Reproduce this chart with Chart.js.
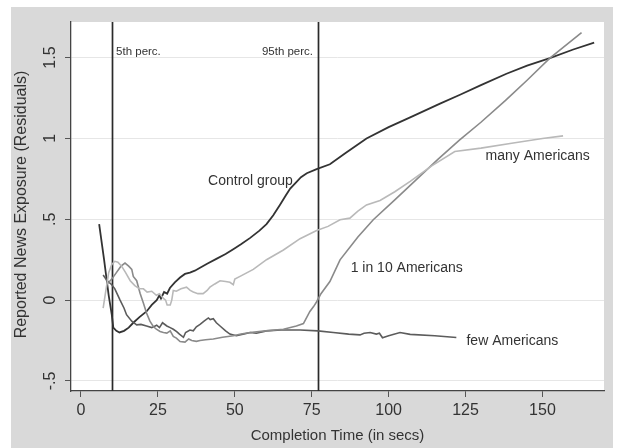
<!DOCTYPE html>
<html>
<head>
<meta charset="utf-8">
<script src="https://cdn.jsdelivr.net/npm/chart.js@4.4.1/dist/chart.umd.min.js"></script>
<style>
html,body{margin:0;padding:0;background:#fff;}
canvas{display:block;}
</style>
</head>
<body>
<canvas id="c" width="618" height="448"></canvas>
<script>
// ---- data ----
const controlX = [5.9,7.5,9,10,10.5,11.5,12.5,14,15.5,17,19,21.3,23,24.6,25.5,26,27,28,28.9,30.5,32.2,33.8,35.4,37,38.7,41,44,47,49.5,52,55,58,60.3,62.5,64.7,66.5,68,70,71.5,73.4,76.6,80.9,86,92.8,100,107,116.7,123.2,130,138.3,145,152.4,160,166.8];
const controlY = [0.47,0.25,0.03,-0.09,-0.17,-0.19,-0.2,-0.19,-0.17,-0.14,-0.105,-0.07,-0.03,0.0,0.03,0.01,0.05,0.04,0.075,0.11,0.14,0.162,0.17,0.182,0.2,0.225,0.255,0.285,0.315,0.345,0.385,0.43,0.47,0.525,0.59,0.645,0.69,0.73,0.76,0.785,0.81,0.84,0.91,1.0,1.07,1.13,1.215,1.27,1.33,1.4,1.45,1.497,1.55,1.593];

const manyX = [7.2,8,9,10,11,12,13.2,14.5,16,17.5,19,20.3,21.5,23,24.5,25.5,26.8,27.5,28,29,29.5,30,31,32.5,34.3,35.5,36.5,38,39.7,41,41.9,43.5,45.2,47,48.4,49.5,50,52,56,60.3,65.8,71.2,76.6,80.3,84.2,87.4,90,92.8,97.2,102,107,114,121.5,130,140,150,156.7];
const manyY = [-0.05,0.05,0.17,0.22,0.24,0.235,0.21,0.17,0.12,0.09,0.07,0.07,0.05,0.055,0.03,0.04,0.01,0.0,-0.03,-0.03,0.0,0.06,0.055,0.07,0.08,0.06,0.05,0.04,0.04,0.06,0.08,0.1,0.12,0.115,0.11,0.095,0.13,0.15,0.19,0.25,0.31,0.38,0.43,0.456,0.497,0.507,0.55,0.589,0.616,0.67,0.734,0.83,0.919,0.94,0.97,1.0,1.016];

const tenX = [8.5,10,11.5,13,14.3,15.5,16.5,17,18.1,19.2,20.3,21.3,22.4,23.5,24.5,25.7,26.8,27.9,29,30,31,32.2,33.8,35,36,37.5,38.7,40.5,43,46,49.5,52,55,60,65.8,70,72.3,74.4,75.6,76.6,78,80.9,84.2,90,95,102,109,116,123,130,138,145,152.4,162.7];
const tenY = [0.1,0.13,0.17,0.21,0.229,0.21,0.19,0.146,0.12,0.043,-0.02,-0.08,-0.13,-0.163,-0.18,-0.194,-0.2,-0.204,-0.19,-0.225,-0.235,-0.256,-0.26,-0.24,-0.25,-0.255,-0.25,-0.245,-0.24,-0.23,-0.22,-0.21,-0.2,-0.19,-0.18,-0.16,-0.145,-0.07,-0.04,-0.01,0.04,0.115,0.249,0.39,0.497,0.62,0.745,0.87,0.99,1.1,1.235,1.36,1.497,1.655];

const fewX = [7.2,8.5,10,11,12.7,14,14.8,16.5,18.1,19.5,21.3,23,24.6,25.5,26.5,27.9,29,30,31.1,32,33.3,34,35.4,36.5,37.5,38.7,40,41.4,42,43,44,45.2,47,48.4,50.5,53,55,57,60.3,65,71.2,77,82,87,90.7,92,94,96,97,98,100,103.7,107,115,122];
const fewY = [0.155,0.12,0.095,0.07,0.0,-0.05,-0.09,-0.13,-0.153,-0.15,-0.16,-0.17,-0.155,-0.17,-0.14,-0.16,-0.17,-0.18,-0.195,-0.21,-0.23,-0.2,-0.185,-0.19,-0.165,-0.15,-0.13,-0.11,-0.12,-0.115,-0.14,-0.16,-0.19,-0.21,-0.22,-0.21,-0.2,-0.205,-0.19,-0.185,-0.185,-0.19,-0.2,-0.21,-0.215,-0.205,-0.2,-0.21,-0.205,-0.233,-0.22,-0.2,-0.212,-0.22,-0.231];

const percentileX = [10, 77];
const percentileLabels = ['5th perc.', '95th perc.'];

const xTicks = [0,25,50,75,100,125,150];
const xTickLabels = ['0','25','50','75','100','125','150'];
const yTicks = [-0.5,0,0.5,1,1.5];
const yTickLabels = ['-.5','0','.5','1','1.5'];

const seriesNames = ['Control group','many Americans','1 in 10 Americans','few Americans'];
const annotX = [41.3, 131.5, 87.65, 125.3];
const annotY = [0.738, 0.892, 0.2, -0.254];
const percLabelX = [11.4, 58.8];
const percLabelY = [1.536, 1.536];

const xTitle = 'Completion Time (in secs)';
const yTitle = 'Reported News Exposure (Residuals)';

// ---- helpers ----
function pts(xs, ys){ return xs.map((x,i)=>({x:x, y:ys[i]})); }
const FONT = '"Liberation Sans", Arial, Helvetica, sans-serif';

const framePlugin = {
  id: 'frame',
  beforeDraw(chart){
    const ctx = chart.ctx, a = chart.chartArea;
    ctx.save();
    ctx.fillStyle = '#ffffff';
    ctx.fillRect(0,0,chart.width,chart.height);
    ctx.fillStyle = '#d9d9d9';
    ctx.fillRect(11,7,602,441);
    ctx.fillStyle = '#ffffff';
    ctx.fillRect(a.left, a.top, a.right-a.left, a.bottom-a.top);
    ctx.restore();
  },
  beforeDatasetsDraw(chart){
    const ctx = chart.ctx, a = chart.chartArea, xs = chart.scales.x;
    ctx.save();
    ctx.strokeStyle = '#2a2a2a';
    ctx.lineWidth = 1.7;
    percentileX.forEach(v=>{
      const px = Math.round(xs.getPixelForValue(v)) + 0.5;
      ctx.beginPath(); ctx.moveTo(px, a.top); ctx.lineTo(px, a.bottom); ctx.stroke();
    });
    ctx.restore();
  },
  afterDraw(chart){
    const ctx = chart.ctx, a = chart.chartArea, xs = chart.scales.x, ys = chart.scales.y;
    ctx.save();
    ctx.fillStyle = '#333333';
    // x tick labels
    ctx.font = '16px ' + FONT;
    ctx.textAlign = 'center'; ctx.textBaseline = 'middle';
    xTicks.forEach((v,i)=>{ ctx.fillText(xTickLabels[i], xs.getPixelForValue(v), 411); });
    // y tick labels rotated
    yTicks.forEach((v,i)=>{
      ctx.save();
      ctx.translate(51, ys.getPixelForValue(v));
      ctx.rotate(-Math.PI/2);
      ctx.fillText(yTickLabels[i], 0, 0);
      ctx.restore();
    });
    // axis titles
    ctx.font = '15px ' + FONT;
    ctx.fillText(xTitle, (a.left+a.right)/2, 436);
    ctx.save();
    ctx.font = '16px ' + FONT;
    ctx.translate(22, (a.top+a.bottom)/2 - 2);
    ctx.rotate(-Math.PI/2);
    ctx.fillText(yTitle, 0, 0);
    ctx.restore();
    // series annotations
    ctx.font = '14px ' + FONT;
    ctx.textAlign = 'left';
    seriesNames.forEach((t,i)=>{
      ctx.fillText(t, xs.getPixelForValue(annotX[i]), ys.getPixelForValue(annotY[i]));
    });
    ctx.font = '11.5px ' + FONT;
    percentileLabels.forEach((t,i)=>{
      ctx.fillText(t, xs.getPixelForValue(percLabelX[i]), ys.getPixelForValue(percLabelY[i]));
    });
    ctx.restore();
  }
};

const lineDs = (label, data, color, w) => ({
  label, data, borderColor: color, borderWidth: w, showLine: true,
  pointRadius: 0, tension: 0, fill: false
});

new Chart(document.getElementById('c'), {
  type: 'scatter',
  data: {
    datasets: [
      lineDs('many Americans', pts(manyX, manyY), '#b9b9b9', 1.6),
      lineDs('1 in 10 Americans', pts(tenX, tenY), '#8a8a8a', 1.6),
      lineDs('few Americans', pts(fewX, fewY), '#5c5c5c', 1.6),
      lineDs('Control group', pts(controlX, controlY), '#333333', 1.8)
    ]
  },
  options: {
    responsive: false,
    animation: false,
    layout: { padding: { top: 22, right: 14, left: 0, bottom: 0 } },
    plugins: { legend: { display: false }, tooltip: { enabled: false } },
    scales: {
      x: {
        type: 'linear', min: -3.25, max: 170,
        afterBuildTicks: s => { s.ticks = xTicks.map(v=>({value:v})); },
        afterFit: s => { s.height = 57; },
        ticks: { display: false },
        grid: { drawOnChartArea: false, drawTicks: true, tickLength: 6, tickColor: '#555555', tickWidth: 1 },
        border: { color: '#444444', width: 1.3 }
      },
      y: {
        type: 'linear', min: -0.562, max: 1.72,
        afterBuildTicks: s => { s.ticks = yTicks.map(v=>({value:v})); },
        afterFit: s => { s.width = 71; },
        ticks: { display: false },
        grid: { color: '#e6e6e6', lineWidth: 1, drawTicks: true, tickLength: 6, tickColor: '#555555', tickWidth: 1 },
        border: { color: '#444444', width: 1.3 }
      }
    }
  },
  plugins: [framePlugin]
});
</script>
</body>
</html>
